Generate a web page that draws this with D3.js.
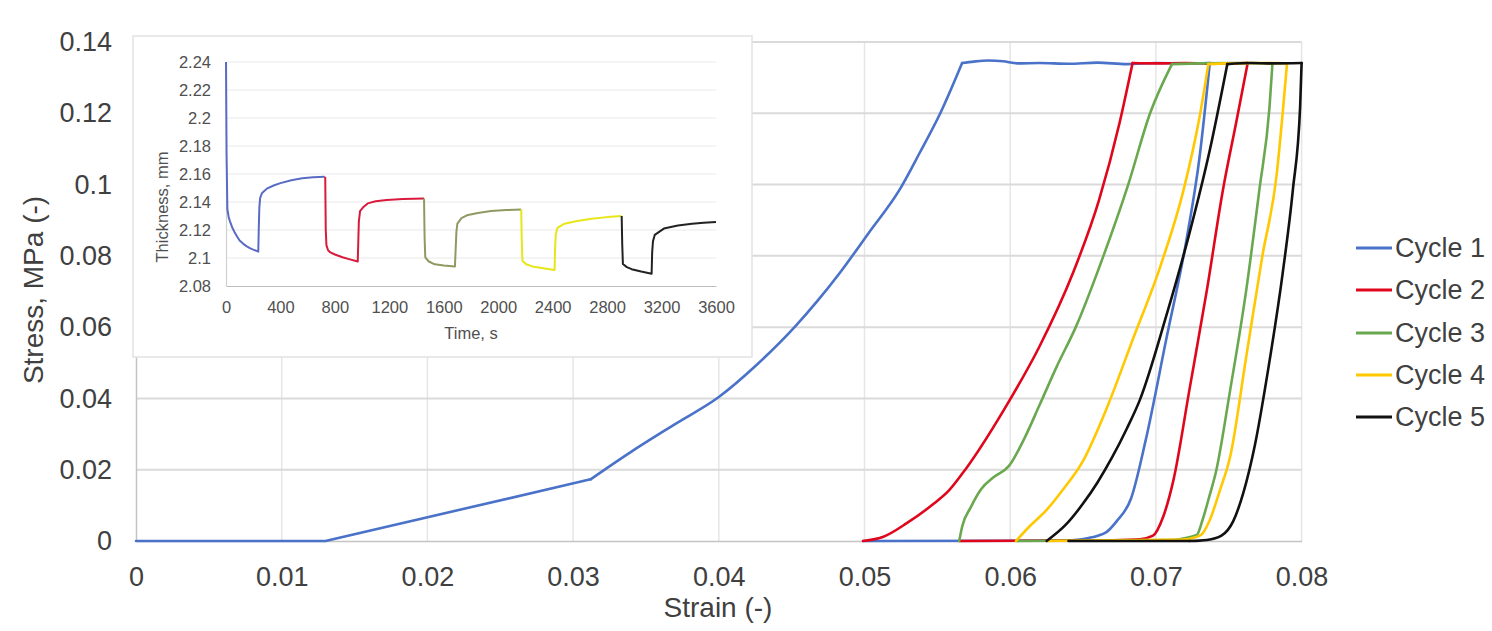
<!DOCTYPE html>
<html>
<head>
<meta charset="utf-8">
<script src="https://cdn.jsdelivr.net/npm/d3@7/dist/d3.min.js"></script>
<style>
  html, body { margin: 0; padding: 0; background: #ffffff; }
  svg { display: block; font-family: "Liberation Sans", Arial, sans-serif; }
</style>
</head>
<body>
<svg id="chart" width="1492" height="631"></svg>
<script>
// ---- Stress–strain loops: [strain, stress] points for each phase of each cycle ----
// Cycle 1
const c1Toe = [[0, 0], [0.013, 0], [0.0312, 0.0173]];
const c1Load = [
  [0.0312, 0.0173], [0.0339, 0.0248], [0.037, 0.0328], [0.04, 0.0404],
  [0.0427, 0.0498], [0.0452, 0.06], [0.0468, 0.0675], [0.0483, 0.0752],
  [0.0503, 0.0865], [0.0524, 0.0985], [0.0538, 0.109], [0.0552, 0.12], [0.0567, 0.1341]
];
const c1Hold = [
  [0.0567, 0.1341], [0.0575, 0.1345], [0.0585, 0.1348], [0.0595, 0.1346], [0.0605, 0.134],
  [0.062, 0.1341], [0.064, 0.1339], [0.066, 0.1342], [0.068, 0.1338], [0.07, 0.1341],
  [0.072, 0.134], [0.0737, 0.1341]
];
const c1Unload = [
  [0.0737, 0.1341], [0.073, 0.1078], [0.0721, 0.0845], [0.0707, 0.0564], [0.0693, 0.0283],
  [0.0683, 0.012], [0.0673, 0.0055], [0.0666, 0.0025], [0.0652, 0.0007], [0.0638, 0.0001]
];
const c1Recover = [[0.0638, 0.0001], [0.0499, 0]];

// Cycle 2
const c2Load = [
  [0.0499, 0], [0.0513, 0.0012], [0.0529, 0.005], [0.0547, 0.0103], [0.0558, 0.0142],
  [0.057, 0.0205], [0.0597, 0.0377], [0.062, 0.0545], [0.0643, 0.0751], [0.0661, 0.0957],
  [0.0675, 0.1172], [0.0684, 0.1341]
];
const c2Hold = [[0.0684, 0.1341], [0.07, 0.134], [0.072, 0.1341], [0.0745, 0.1339], [0.0763, 0.1341]];
const c2Unload = [
  [0.0763, 0.1341], [0.0755, 0.1172], [0.0746, 0.0985], [0.0735, 0.0704], [0.0723, 0.0424],
  [0.0712, 0.017], [0.0705, 0.0068], [0.0698, 0.0015], [0.0689, 0.0005], [0.067, 0.0002]
];
const c2Recover = [[0.067, 0.0002], [0.0565, 0]];

// Cycle 3
const c3Load = [
  [0.0565, 0], [0.0567, 0.004], [0.0573, 0.0095], [0.058, 0.0145], [0.0589, 0.018],
  [0.0599, 0.021], [0.061, 0.029], [0.062, 0.038], [0.0632, 0.049], [0.0645, 0.06],
  [0.0664, 0.08], [0.0681, 0.1], [0.0696, 0.12], [0.0711, 0.1338]
];
const c3Hold = [[0.0711, 0.1338], [0.073, 0.134], [0.0755, 0.1341], [0.078, 0.134]];
const c3Unload = [
  [0.078, 0.134], [0.0778, 0.1219], [0.0771, 0.0985], [0.0762, 0.0704], [0.0751, 0.0424],
  [0.0741, 0.019], [0.0737, 0.013], [0.0732, 0.0059], [0.0728, 0.0017], [0.0712, 0.0003]
];
const c3Recover = [[0.0712, 0.0003], [0.0604, 0]];

// Cycle 4
const c4Load = [
  [0.0604, 0], [0.0613, 0.004], [0.0625, 0.0087], [0.0636, 0.0143], [0.065, 0.0225],
  [0.0666, 0.037], [0.0684, 0.0564], [0.0703, 0.077], [0.0719, 0.0985], [0.073, 0.119],
  [0.0736, 0.1338]
];
const c4Hold = [[0.0736, 0.1338], [0.075, 0.134], [0.077, 0.1341], [0.079, 0.134]];
const c4Unload = [
  [0.079, 0.134], [0.0787, 0.12], [0.0783, 0.1032], [0.0773, 0.0798], [0.0762, 0.0517],
  [0.0751, 0.0237], [0.0744, 0.0143], [0.0737, 0.0059], [0.0731, 0.0017], [0.072, 0.0004]
];
const c4Recover = [[0.072, 0.0004], [0.0625, 0]];

// Cycle 5
const c5Load = [
  [0.0625, 0], [0.0638, 0.0045], [0.065, 0.0105], [0.066, 0.0165], [0.067, 0.0235],
  [0.068, 0.0315], [0.0689, 0.0396], [0.0707, 0.063], [0.0723, 0.0863], [0.0737, 0.1097],
  [0.0749, 0.1338]
];
const c5Hold = [[0.0749, 0.1338], [0.0765, 0.1341], [0.078, 0.134], [0.08, 0.1341]];
const c5Unload = [
  [0.08, 0.1341], [0.0799, 0.1219], [0.0794, 0.0985], [0.0787, 0.0751], [0.0777, 0.048],
  [0.0768, 0.027], [0.076, 0.0135], [0.0753, 0.0055], [0.0745, 0.0015], [0.0735, 0.0003],
  [0.0723, 0]
];
const c5Recover = [[0.0723, 0], [0.064, 0]];

const cycleNames = ["Cycle 1", "Cycle 2", "Cycle 3", "Cycle 4", "Cycle 5"];
const cycleColors = ["#4a72c8", "#e0061c", "#6aa84f", "#ffc800", "#111111"];

const strainTicks = [0, 0.01, 0.02, 0.03, 0.04, 0.05, 0.06, 0.07, 0.08];
const strainTickLabels = ["0", "0.01", "0.02", "0.03", "0.04", "0.05", "0.06", "0.07", "0.08"];
const stressTicks = [0, 0.02, 0.04, 0.06, 0.08, 0.1, 0.12, 0.14];
const stressTickLabels = ["0", "0.02", "0.04", "0.06", "0.08", "0.1", "0.12", "0.14"];

// ---- Inset: specimen thickness over time, [time s, thickness mm] ----
const thick1 = [
  [0, 2.24], [4, 2.175], [10, 2.135], [20, 2.129], [30, 2.126], [45, 2.122],
  [60, 2.119], [80, 2.1155], [100, 2.1125], [125, 2.1103], [150, 2.1085],
  [175, 2.1071], [200, 2.106], [237, 2.1045], [241, 2.122], [245, 2.136],
  [251, 2.143], [265, 2.1465], [300, 2.1495], [350, 2.1518], [400, 2.1535],
  [480, 2.1556], [560, 2.157], [640, 2.1577], [725, 2.158]
];
const thick2 = [
  [729, 2.158], [733, 2.12], [738, 2.109], [750, 2.1055], [767, 2.104],
  [800, 2.1025], [856, 2.1005], [910, 2.099], [968, 2.0975], [972, 2.112],
  [976, 2.126], [985, 2.1335], [1010, 2.1365], [1041, 2.139], [1100, 2.1405],
  [1180, 2.1415], [1300, 2.1421], [1455, 2.1425]
];
const thick3 = [
  [1455, 2.1425], [1459, 2.115], [1464, 2.1005], [1490, 2.0975], [1534, 2.0955],
  [1600, 2.0947], [1682, 2.094], [1688, 2.108], [1693, 2.119], [1700, 2.1245],
  [1730, 2.1285], [1770, 2.1305], [1850, 2.1322], [1947, 2.1335], [2060, 2.1342],
  [2169, 2.1346]
];
const thick4 = [
  [2169, 2.1346], [2173, 2.112], [2178, 2.098], [2205, 2.0955], [2251, 2.094],
  [2330, 2.0927], [2414, 2.0915], [2418, 2.107], [2423, 2.117], [2435, 2.1215],
  [2487, 2.1245], [2580, 2.1265], [2686, 2.128], [2800, 2.1292], [2907, 2.13]
];
const thick5 = [
  [2907, 2.13], [2911, 2.11], [2916, 2.0957], [2945, 2.0935], [2980, 2.092],
  [3050, 2.0903], [3127, 2.0888], [3131, 2.104], [3137, 2.112], [3150, 2.1165],
  [3217, 2.121], [3320, 2.1232], [3424, 2.1245], [3510, 2.1252], [3600, 2.1257]
];
const insetColors = ["#5a6bc4", "#d81b3c", "#8e9a62", "#e6e619", "#222222"];

const timeTicks = [0, 400, 800, 1200, 1600, 2000, 2400, 2800, 3200, 3600];
const timeTickLabels = ["0", "400", "800", "1200", "1600", "2000", "2400", "2800", "3200", "3600"];
const thickTicks = [2.08, 2.1, 2.12, 2.14, 2.16, 2.18, 2.2, 2.22, 2.24];
const thickTickLabels = ["2.08", "2.1", "2.12", "2.14", "2.16", "2.18", "2.2", "2.22", "2.24"];

// phases of each cycle in drawing order; smooth phases get a monotone curve
const cyclePhases = [
  [[c1Toe, false], [c1Load, true], [c1Hold, true], [c1Unload, true], [c1Recover, false]],
  [[c2Load, true], [c2Hold, true], [c2Unload, true], [c2Recover, false]],
  [[c3Load, true], [c3Hold, true], [c3Unload, true], [c3Recover, false]],
  [[c4Load, true], [c4Hold, true], [c4Unload, true], [c4Recover, false]],
  [[c5Load, true], [c5Hold, true], [c5Unload, true], [c5Recover, false]]
];

// ---- Layout ----
const svg = d3.select("#chart");
const plot = { left: 136, right: 1301.6, top: 42, bottom: 541 };
const x = d3.scaleLinear().domain([0, 0.08]).range([plot.left, plot.right]);
const y = d3.scaleLinear().domain([0, 0.14]).range([plot.bottom, plot.top]);

const textColor = "#404040";

// gridlines
const grid = svg.append("g");
grid.selectAll("line.v").data(strainTicks.slice(1)).join("line")
  .attr("x1", d => x(d)).attr("x2", d => x(d))
  .attr("y1", plot.top).attr("y2", plot.bottom)
  .attr("stroke", "#e6e6e6").attr("stroke-width", 1.5);
grid.selectAll("line.h").data(stressTicks.slice(1)).join("line")
  .attr("x1", plot.left).attr("x2", plot.right)
  .attr("y1", d => y(d)).attr("y2", d => y(d))
  .attr("stroke", "#dadada").attr("stroke-width", 2);

// axes
const xAxis = d3.axisBottom(x).tickValues(strainTicks)
  .tickFormat((d, i) => strainTickLabels[i]).tickSize(0);
const gx = svg.append("g").attr("transform", `translate(0,${plot.bottom})`).call(xAxis);
gx.select(".domain").attr("stroke", "#c4c4c4").attr("stroke-width", 1.5);
gx.selectAll("text").attr("y", 36).attr("dy", "0.35em")
  .attr("font-size", 27).attr("fill", textColor).attr("font-family", "Liberation Sans, Arial, sans-serif");

const yAxis = d3.axisLeft(y).tickValues(stressTicks)
  .tickFormat((d, i) => stressTickLabels[i]).tickSize(0).tickPadding(24);
const gy = svg.append("g").attr("transform", `translate(${plot.left},0)`).call(yAxis);
gy.select(".domain").attr("stroke", "#c4c4c4").attr("stroke-width", 1.5);
gy.selectAll("text").attr("font-size", 27).attr("fill", textColor)
  .attr("font-family", "Liberation Sans, Arial, sans-serif");

// axis titles
svg.append("text")
  .attr("transform", "translate(33,290) rotate(-90)")
  .attr("text-anchor", "middle").attr("dominant-baseline", "central")
  .attr("font-size", 28).attr("fill", textColor)
  .text("Stress, MPa (-)");
svg.append("text")
  .attr("x", 718).attr("y", 607)
  .attr("text-anchor", "middle").attr("dominant-baseline", "central")
  .attr("font-size", 28).attr("fill", textColor)
  .text("Strain (-)");

// ---- Inset panel ----
const inset = svg.append("g");
inset.append("rect")
  .attr("x", 133).attr("y", 36).attr("width", 619).attr("height", 321)
  .attr("fill", "#ffffff").attr("stroke", "#e2e2e2").attr("stroke-width", 1.5);

const xi = d3.scaleLinear().domain([0, 3600]).range([226, 716]);
const yi = d3.scaleLinear().domain([2.08, 2.24]).range([286, 62]);

inset.selectAll("line.ig").data(thickTicks.slice(1)).join("line")
  .attr("x1", xi(0)).attr("x2", xi(3600))
  .attr("y1", d => yi(d)).attr("y2", d => yi(d))
  .attr("stroke", "#f0f0f0").attr("stroke-width", 1.5);

const xiAxis = d3.axisBottom(xi).tickValues(timeTicks)
  .tickFormat((d, i) => timeTickLabels[i]).tickSize(0);
const gxi = inset.append("g").attr("transform", `translate(0,${yi(2.08)})`).call(xiAxis);
gxi.select(".domain").attr("stroke", "#bdbdbd").attr("stroke-width", 1.2);
gxi.selectAll("text").attr("y", 21).attr("dy", "0.35em")
  .attr("font-size", 16.5).attr("fill", "#505050").attr("font-family", "Liberation Sans, Arial, sans-serif");

const yiAxis = d3.axisLeft(yi).tickValues(thickTicks)
  .tickFormat((d, i) => thickTickLabels[i]).tickSize(0).tickPadding(15);
const gyi = inset.append("g").attr("transform", `translate(${xi(0)},0)`).call(yiAxis);
gyi.select(".domain").attr("stroke", "#d0d0d0").attr("stroke-width", 1.2);
gyi.selectAll("text").attr("font-size", 16.5).attr("fill", "#505050")
  .attr("font-family", "Liberation Sans, Arial, sans-serif");

inset.append("text")
  .attr("transform", "translate(162,207) rotate(-90)")
  .attr("text-anchor", "middle").attr("dominant-baseline", "central")
  .attr("font-size", 16.5).attr("fill", "#505050")
  .text("Thickness, mm");
inset.append("text")
  .attr("x", 471).attr("y", 333)
  .attr("text-anchor", "middle").attr("dominant-baseline", "central")
  .attr("font-size", 16.5).attr("fill", "#505050")
  .text("Time, s");

const insetLine = d3.line().x(d => xi(d[0])).y(d => yi(d[1]));
[thick1, thick2, thick3, thick4, thick5].forEach((series, i) => {
  inset.append("path")
    .attr("d", insetLine(series))
    .attr("fill", "none")
    .attr("stroke", insetColors[i])
    .attr("stroke-width", 2)
    .attr("stroke-linejoin", "round");
});

// ---- Stress–strain curves ----
const straight = d3.line().x(d => x(d[0])).y(d => y(d[1]));
const smooth = d3.line().x(d => x(d[0])).y(d => y(d[1])).curve(d3.curveMonotoneX);
cyclePhases.forEach((phases, i) => {
  const g = svg.append("g");
  phases.forEach(([pts, isSmooth]) => {
    // monotone interpolation needs strain in ascending order
    const ordered = pts.slice().sort((a, b) => a[0] - b[0]);
    g.append("path")
      .attr("d", isSmooth ? smooth(ordered) : straight(pts))
      .attr("fill", "none")
      .attr("stroke", cycleColors[i])
      .attr("stroke-width", 2.6)
      .attr("stroke-linejoin", "round")
      .attr("stroke-linecap", "round");
  });
});

// ---- Legend ----
const legendRows = [248, 290, 333, 375, 417];
const legend = svg.append("g");
cycleNames.forEach((name, i) => {
  legend.append("line")
    .attr("x1", 1356).attr("x2", 1392)
    .attr("y1", legendRows[i]).attr("y2", legendRows[i])
    .attr("stroke", cycleColors[i]).attr("stroke-width", 3);
  legend.append("text")
    .attr("x", 1395).attr("y", legendRows[i])
    .attr("dominant-baseline", "central")
    .attr("font-size", 27).attr("fill", textColor)
    .text(name);
});
</script>
</body>
</html>
